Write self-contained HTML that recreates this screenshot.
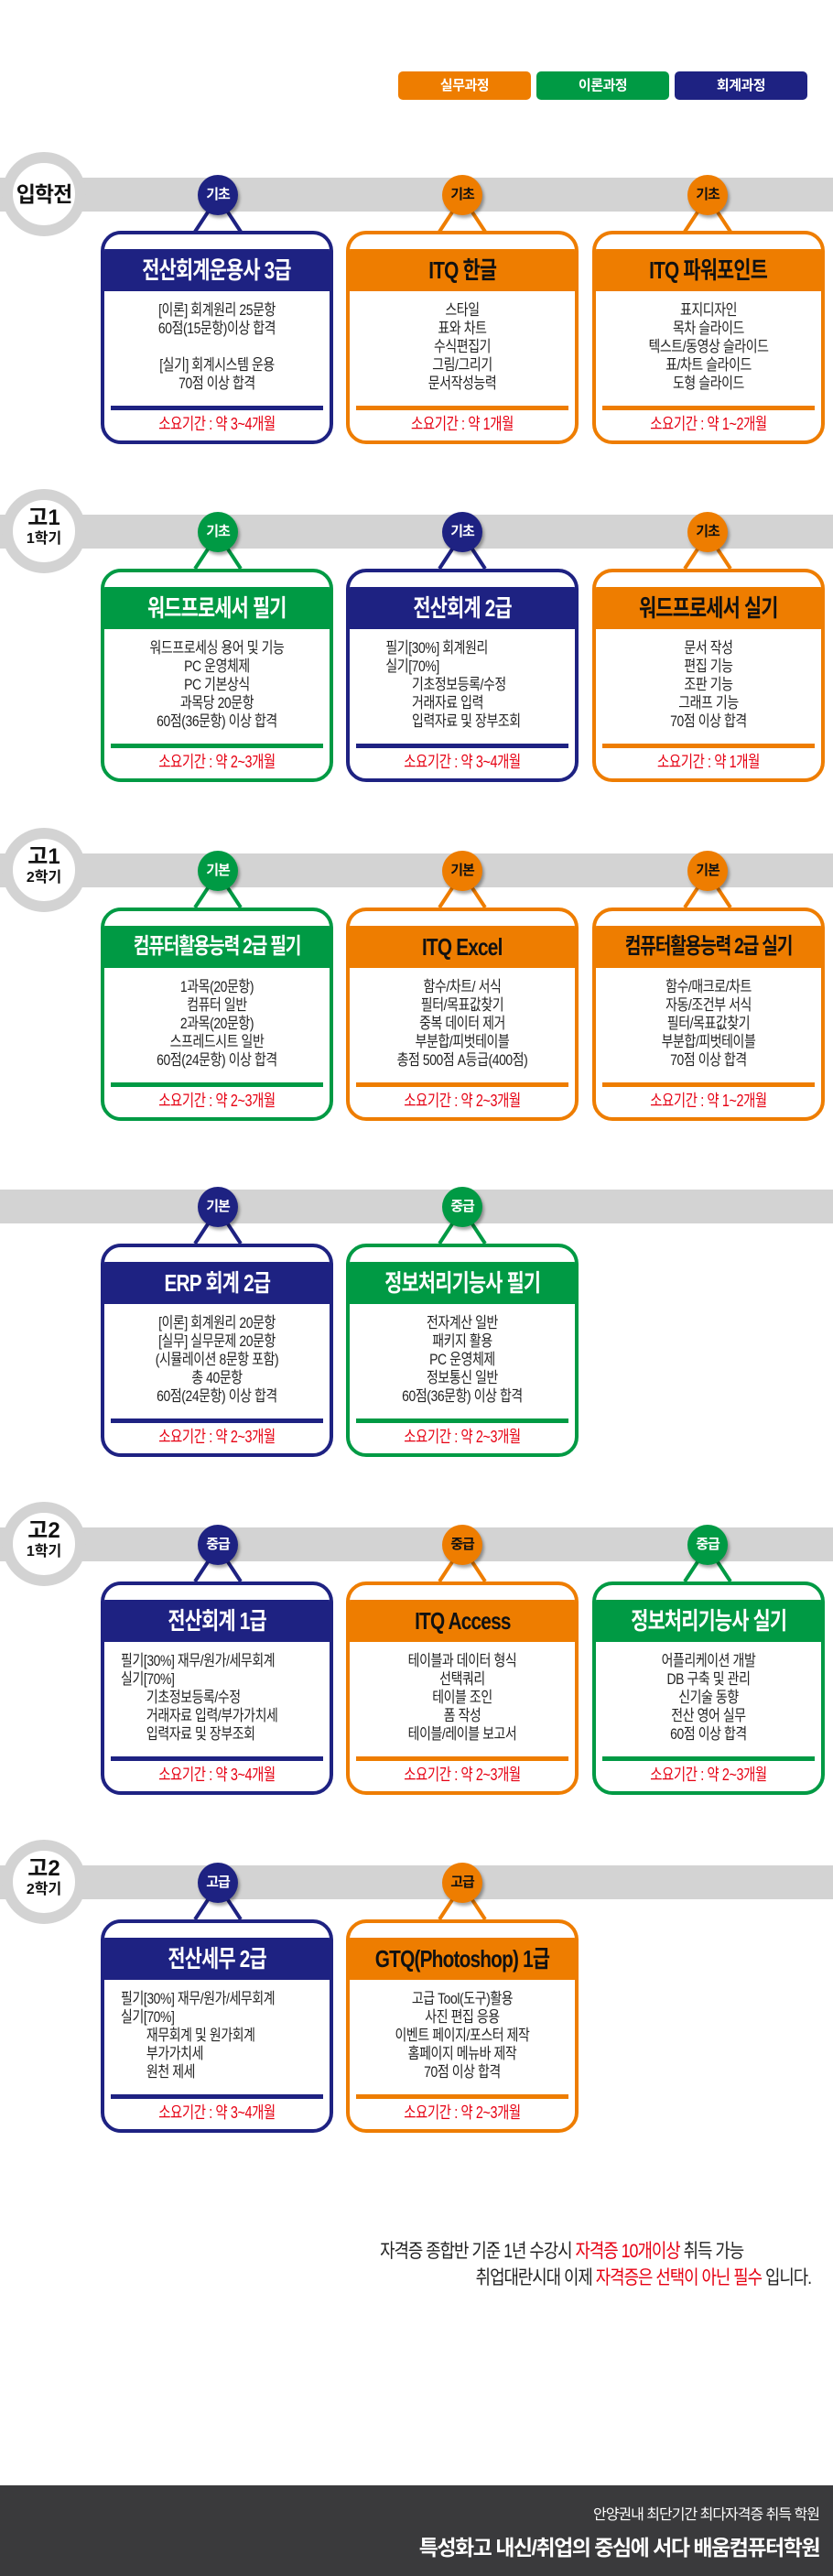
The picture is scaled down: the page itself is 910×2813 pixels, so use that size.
<!DOCTYPE html>
<html><head><meta charset="utf-8">
<style>
*{margin:0;padding:0;box-sizing:border-box}
body{width:910px;height:2813px;position:relative;background:#fff;font-family:"Liberation Sans","Noto Sans CJK KR",sans-serif;overflow:hidden}
.abs{position:absolute}
.leg{position:absolute;top:78px;height:31px;width:145px;border-radius:5px;color:#fff;font-weight:bold;font-size:15px;text-align:center;line-height:31px;letter-spacing:-0.5px}
.bar{position:absolute;left:0;width:910px;height:37px;background:#d3d3d3}
.ring{position:absolute;left:2px;width:92px;height:92px;border-radius:50%;border:12px solid #d3d3d3;background:#fff;text-align:center;font-weight:bold;color:#111}
.badge{position:absolute;width:44px;height:44px;border-radius:50%;text-align:center;line-height:44px;font-size:15px;font-weight:bold;box-shadow:2px 3px 3px rgba(0,0,0,.35);letter-spacing:-1px}
.card{position:absolute;width:254px;height:233px;border:4px solid;border-radius:22px;background:#fff;overflow:hidden}
.hd{position:absolute;left:0;right:0;top:16px;height:46px;text-align:center;line-height:46px;white-space:nowrap}
.hd span{display:inline-block;font-size:26px;font-weight:bold;letter-spacing:-1px;transform:scaleX(.8)}
.hd span.s{font-size:24px;letter-spacing:-1.5px}
.bd{position:absolute;left:0;right:0;top:73px;text-align:center;font-size:17px;line-height:20px;color:#222;letter-spacing:-0.5px;white-space:nowrap;transform:scaleX(.82);transform-origin:50% 0}
.bd.l{text-align:left;transform-origin:0 0}
.sep{position:absolute;left:7px;right:7px;top:187px;height:5px}
.dur{position:absolute;left:0;right:0;top:196px;text-align:center;font-size:18px;line-height:22px;color:#e60012;letter-spacing:-0.5px;transform:scaleX(.8);white-space:nowrap}
.N{border-color:#1e2282}.O{border-color:#ee7d00}.G{border-color:#009a44}
.bN{background:#1e2282;color:#fff}.bO{background:#ee7d00;color:#111}.bG{background:#009a44;color:#fff}
</style></head><body>

<div class="leg" style="left:435px;background:#ee7d00">실무과정</div>
<div class="leg" style="left:586px;background:#009a44">이론과정</div>
<div class="leg" style="left:737px;background:#1e2282">회계과정</div>

<div class="bar" style="top:194px"></div>
<div class="ring" style="top:166px;font-size:23px;line-height:68px;letter-spacing:-1px">입학전</div>

<div class="bar" style="top:562px"></div>
<div class="ring" style="top:534px;padding-top:6px"><div style="font-size:24px;line-height:28px">고1</div><div style="font-size:16px;line-height:18px">1학기</div></div>

<div class="bar" style="top:932px"></div>
<div class="ring" style="top:904px;padding-top:6px"><div style="font-size:24px;line-height:28px">고1</div><div style="font-size:16px;line-height:18px">2학기</div></div>

<div class="bar" style="top:1299px"></div>

<div class="bar" style="top:1668px"></div>
<div class="ring" style="top:1640px;padding-top:6px"><div style="font-size:24px;line-height:28px">고2</div><div style="font-size:16px;line-height:18px">1학기</div></div>

<div class="bar" style="top:2037px"></div>
<div class="ring" style="top:2009px;padding-top:6px"><div style="font-size:24px;line-height:28px">고2</div><div style="font-size:16px;line-height:18px">2학기</div></div>

<svg class="abs" style="left:0;top:0" width="910" height="2813" fill="none" stroke-width="4">
<polyline stroke="#1e2282" points="213,253 238,215 263,253"/>
<polyline stroke="#ee7d00" points="480,253 505,215 530,253"/>
<polyline stroke="#ee7d00" points="748,253 773,215 798,253"/>
<polyline stroke="#009a44" points="213,621 238,583 263,621"/>
<polyline stroke="#1e2282" points="480,621 505,583 530,621"/>
<polyline stroke="#ee7d00" points="748,621 773,583 798,621"/>
<polyline stroke="#009a44" points="213,991 238,953 263,991"/>
<polyline stroke="#ee7d00" points="480,991 505,953 530,991"/>
<polyline stroke="#ee7d00" points="748,991 773,953 798,991"/>
<polyline stroke="#1e2282" points="213,1358 238,1320 263,1358"/>
<polyline stroke="#009a44" points="480,1358 505,1320 530,1358"/>
<polyline stroke="#1e2282" points="213,1727 238,1689 263,1727"/>
<polyline stroke="#ee7d00" points="480,1727 505,1689 530,1727"/>
<polyline stroke="#009a44" points="748,1727 773,1689 798,1727"/>
<polyline stroke="#1e2282" points="213,2096 238,2058 263,2096"/>
<polyline stroke="#ee7d00" points="480,2096 505,2058 530,2096"/>
</svg>

<div class="badge bN" style="left:216px;top:191px">기초</div>
<div class="badge bO" style="left:483px;top:191px">기초</div>
<div class="badge bO" style="left:751px;top:191px">기초</div>
<div class="badge bG" style="left:216px;top:559px">기초</div>
<div class="badge bN" style="left:483px;top:559px">기초</div>
<div class="badge bO" style="left:751px;top:559px">기초</div>
<div class="badge bG" style="left:216px;top:929px">기본</div>
<div class="badge bO" style="left:483px;top:929px">기본</div>
<div class="badge bO" style="left:751px;top:929px">기본</div>
<div class="badge bN" style="left:216px;top:1296px">기본</div>
<div class="badge bG" style="left:483px;top:1296px">중급</div>
<div class="badge bN" style="left:216px;top:1665px">중급</div>
<div class="badge bO" style="left:483px;top:1665px">중급</div>
<div class="badge bG" style="left:751px;top:1665px">중급</div>
<div class="badge bN" style="left:216px;top:2034px">고급</div>
<div class="badge bO" style="left:483px;top:2034px">고급</div>

<div class="card N" style="left:110px;top:252px"><div class="hd bN"><span>전산회계운용사 3급</span></div>
<div class="bd">[이론] 회계원리 25문항<br>60점(15문항)이상 합격<br>&nbsp;<br>[실기] 회계시스템 운용<br>70점 이상 합격</div>
<div class="sep bN"></div><div class="dur">소요기간 : 약 3~4개월</div></div>
<div class="card O" style="left:378px;top:252px"><div class="hd bO"><span>ITQ 한글</span></div>
<div class="bd">스타일<br>표와 차트<br>수식편집기<br>그림/그리기<br>문서작성능력</div>
<div class="sep bO"></div><div class="dur">소요기간 : 약 1개월</div></div>
<div class="card O" style="left:647px;top:252px"><div class="hd bO"><span>ITQ 파워포인트</span></div>
<div class="bd">표지디자인<br>목차 슬라이드<br>텍스트/동영상 슬라이드<br>표/차트 슬라이드<br>도형 슬라이드</div>
<div class="sep bO"></div><div class="dur">소요기간 : 약 1~2개월</div></div>

<div class="card G" style="left:110px;top:621px"><div class="hd bG"><span>워드프로세서 필기</span></div>
<div class="bd">워드프로세싱 용어 및 기능<br>PC 운영체제<br>PC 기본상식<br>과목당 20문항<br>60점(36문항) 이상 합격</div>
<div class="sep bG"></div><div class="dur">소요기간 : 약 2~3개월</div></div>
<div class="card N" style="left:378px;top:621px"><div class="hd bN"><span>전산회계 2급</span></div>
<div class="bd l" style="padding-left:48px">필기[30%] 회계원리<br>실기[70%]<br><span style="padding-left:35px">기초정보등록/수정</span><br><span style="padding-left:35px">거래자료 입력</span><br><span style="padding-left:35px">입력자료 및 장부조회</span></div>
<div class="sep bN"></div><div class="dur">소요기간 : 약 3~4개월</div></div>
<div class="card O" style="left:647px;top:621px"><div class="hd bO"><span>워드프로세서 실기</span></div>
<div class="bd">문서 작성<br>편집 기능<br>조판 기능<br>그래프 기능<br>70점 이상 합격</div>
<div class="sep bO"></div><div class="dur">소요기간 : 약 1개월</div></div>

<div class="card G" style="left:110px;top:991px"><div class="hd bG"><span class="s">컴퓨터활용능력 2급 필기</span></div>
<div class="bd">1과목(20문항)<br>컴퓨터 일반<br>2과목(20문항)<br>스프레드시트 일반<br>60점(24문항) 이상 합격</div>
<div class="sep bG"></div><div class="dur">소요기간 : 약 2~3개월</div></div>
<div class="card O" style="left:378px;top:991px"><div class="hd bO"><span>ITQ Excel</span></div>
<div class="bd">함수/차트/ 서식<br>필터/목표값찾기<br>중복 데이터 제거<br>부분합/피벗테이블<br>총점 500점 A등급(400점)</div>
<div class="sep bO"></div><div class="dur">소요기간 : 약 2~3개월</div></div>
<div class="card O" style="left:647px;top:991px"><div class="hd bO"><span class="s">컴퓨터활용능력 2급 실기</span></div>
<div class="bd">함수/매크로/차트<br>자동/조건부 서식<br>필터/목표값찾기<br>부분합/피벗테이블<br>70점 이상 합격</div>
<div class="sep bO"></div><div class="dur">소요기간 : 약 1~2개월</div></div>

<div class="card N" style="left:110px;top:1358px"><div class="hd bN"><span>ERP 회계 2급</span></div>
<div class="bd">[이론] 회계원리 20문항<br>[실무] 실무문제 20문항<br>(시뮬레이션 8문항 포함)<br>총 40문항<br>60점(24문항) 이상 합격</div>
<div class="sep bN"></div><div class="dur">소요기간 : 약 2~3개월</div></div>
<div class="card G" style="left:378px;top:1358px"><div class="hd bG"><span>정보처리기능사 필기</span></div>
<div class="bd">전자계산 일반<br>패키지 활용<br>PC 운영체제<br>정보통신 일반<br>60점(36문항) 이상 합격</div>
<div class="sep bG"></div><div class="dur">소요기간 : 약 2~3개월</div></div>

<div class="card N" style="left:110px;top:1727px"><div class="hd bN"><span>전산회계 1급</span></div>
<div class="bd l" style="padding-left:22px">필기[30%] 재무/원가/세무회계<br>실기[70%]<br><span style="padding-left:34px">기초정보등록/수정</span><br><span style="padding-left:34px">거래자료 입력/부가가치세</span><br><span style="padding-left:34px">입력자료 및 장부조회</span></div>
<div class="sep bN"></div><div class="dur">소요기간 : 약 3~4개월</div></div>
<div class="card O" style="left:378px;top:1727px"><div class="hd bO"><span>ITQ Access</span></div>
<div class="bd">테이블과 데이터 형식<br>선택쿼리<br>테이블 조인<br>폼 작성<br>테이블/레이블 보고서</div>
<div class="sep bO"></div><div class="dur">소요기간 : 약 2~3개월</div></div>
<div class="card G" style="left:647px;top:1727px"><div class="hd bG"><span>정보처리기능사 실기</span></div>
<div class="bd">어플리케이션 개발<br>DB 구축 및 관리<br>신기술 동향<br>전산 영어 실무<br>60점 이상 합격</div>
<div class="sep bG"></div><div class="dur">소요기간 : 약 2~3개월</div></div>

<div class="card N" style="left:110px;top:2096px"><div class="hd bN"><span>전산세무 2급</span></div>
<div class="bd l" style="padding-left:22px">필기[30%] 재무/원가/세무회계<br>실기[70%]<br><span style="padding-left:34px">재무회계 및 원가회계</span><br><span style="padding-left:34px">부가가치세</span><br><span style="padding-left:34px">원천 제세</span></div>
<div class="sep bN"></div><div class="dur">소요기간 : 약 3~4개월</div></div>
<div class="card O" style="left:378px;top:2096px"><div class="hd bO"><span>GTQ(Photoshop) 1급</span></div>
<div class="bd">고급 Tool(도구)활용<br>사진 편집 응용<br>이벤트 페이지/포스터 제작<br>홈페이지 메뉴바 제작<br>70점 이상 합격</div>
<div class="sep bO"></div><div class="dur">소요기간 : 약 2~3개월</div></div>

<div class="abs" style="left:200px;width:612px;top:2445px;text-align:right;font-size:21px;line-height:28px;letter-spacing:-1.2px;color:#222;white-space:nowrap"><span style="display:inline-block;transform:scaleX(.85);transform-origin:100% 0">자격증 종합반 기준 1년 수강시 <span style="color:#e60012">자격증 10개이상</span> 취득 가능</span></div>
<div class="abs" style="left:200px;width:686px;top:2474px;text-align:right;font-size:21px;line-height:28px;letter-spacing:-1.2px;color:#222;white-space:nowrap"><span style="display:inline-block;transform:scaleX(.85);transform-origin:100% 0">취업대란시대 이제 <span style="color:#e60012">자격증은 선택이 아닌 필수</span> 입니다.</span></div>

<div class="abs" style="left:0;top:2714px;width:910px;height:99px;background:#3a3a3c"></div>
<div class="abs" style="left:300px;width:595px;top:2735px;text-align:right;font-size:16px;line-height:24px;color:#fff;letter-spacing:-1px;white-space:nowrap">안양권내 최단기간 최다자격증 취득 학원</div>
<div class="abs" style="left:300px;width:595px;top:2766px;text-align:right;font-size:23px;line-height:32px;color:#fff;letter-spacing:-1.5px;white-space:nowrap;font-weight:bold">특성화고 내신/취업의 중심에 서다 배움컴퓨터학원</div>

</body></html>
